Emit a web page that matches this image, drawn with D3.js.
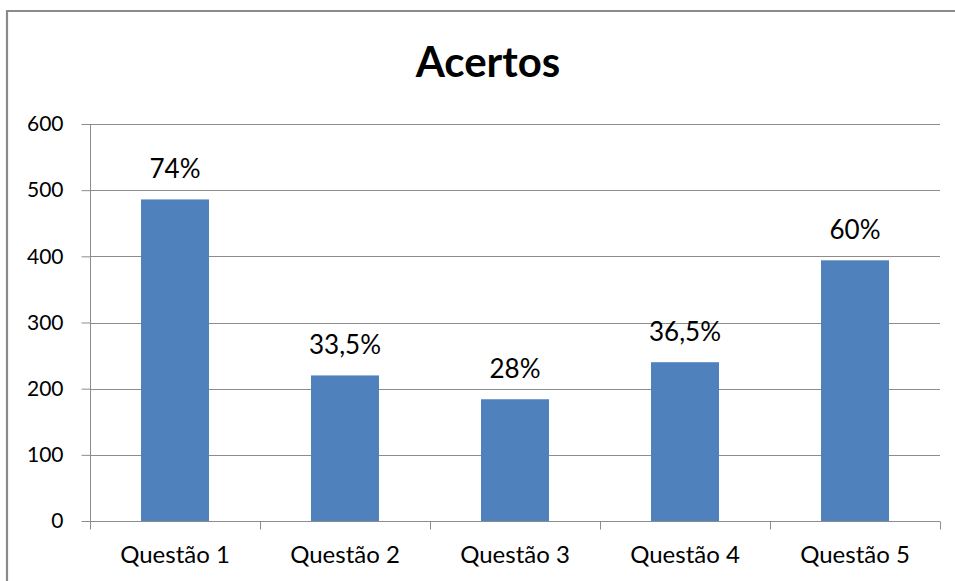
<!DOCTYPE html>
<html>
<head>
<meta charset="utf-8">
<script src="https://cdn.jsdelivr.net/npm/d3@7"></script>
<style>
  body { margin: 0; background: #fff; }
  svg { display: block; font-family: Lato, "Open Sans", sans-serif; }
  .grid line { stroke: #8c8c8c; stroke-width: 1; }
  .axis path, .axis line { stroke: #8c8c8c; }
</style>
</head>
<body>
<svg width="955" height="581"></svg>
<script>
// chart data
var categories = ["Questão 1", "Questão 2", "Questão 3", "Questão 4", "Questão 5"];
var values = [486, 220, 184, 240, 394];
var labels = ["74%", "33,5%", "28%", "36,5%", "60%"];
var yTicks = [0, 100, 200, 300, 400, 500, 600];

var svg = d3.select("svg"),
  width = +svg.attr("width"),
  height = +svg.attr("height");

var margin = {top: 124, right: 15, bottom: 60, left: 90};
var plotW = 940 - margin.left,
  plotH = 521 - margin.top;

// outer frame (only left + top edges are visible in the picture)
svg.append("path")
  .attr("d", "M7,581 V11 H955")
  .attr("fill", "none")
  .attr("stroke", "#8a8a8a")
  .attr("stroke-width", 2.2);

// title
svg.append("text")
  .attr("x", 488)
  .attr("y", 77)
  .attr("text-anchor", "middle")
  .attr("font-size", 42)
  .attr("font-weight", "bold")
  .attr("fill", "#000")
  .text("Acertos");

var g = svg.append("g")
  .attr("transform", "translate(" + margin.left + "," + margin.top + ")");

var x = d3.scaleBand()
  .domain(categories)
  .range([0, plotW])
  .padding(0);

var y = d3.scaleLinear()
  .domain([0, 600])
  .range([plotH, 0]);

// gridlines
g.append("g")
  .attr("class", "grid")
  .selectAll("line")
  .data(yTicks.filter(d => d > 0))
  .enter().append("line")
  .attr("x1", 0)
  .attr("x2", plotW)
  .attr("y1", d => Math.round(y(d)) + 0.5)
  .attr("y2", d => Math.round(y(d)) + 0.5);

// y axis
var yAxis = g.append("g")
  .attr("class", "axis")
  .attr("transform", "translate(0.5,0)")
  .call(d3.axisLeft(y).tickValues(yTicks).tickSize(9).tickPadding(10));
yAxis.select(".domain").attr("d", "M0," + plotH + "V0");
yAxis.selectAll("text")
  .attr("font-size", 21)
  .attr("font-family", "Lato, sans-serif")
  .attr("fill", "#000");
yAxis.selectAll(".tick text").attr("x", -27);

// bars
var barW = x.bandwidth() * 0.4;
g.append("g")
  .selectAll("rect")
  .data(values)
  .enter().append("rect")
  .attr("x", (d, i) => x(categories[i]) + (x.bandwidth() - barW) / 2)
  .attr("y", d => y(d))
  .attr("width", barW)
  .attr("height", d => plotH - y(d))
  .attr("fill", "#4f81bd");

// value labels
g.append("g")
  .selectAll("text")
  .data(values)
  .enter().append("text")
  .attr("x", (d, i) => x(categories[i]) + x.bandwidth() / 2)
  .attr("y", d => y(d) - 21)
  .attr("text-anchor", "middle")
  .attr("font-size", 26)
  .attr("fill", "#000")
  .text((d, i) => labels[i]);

// x axis
var xAxis = g.append("g")
  .attr("class", "axis")
  .attr("transform", "translate(0," + (plotH + 0.5) + ")")
  .call(d3.axisBottom(x).tickSize(0).tickPadding(24));
xAxis.select(".domain").attr("d", "M0,0H" + plotW);
xAxis.selectAll("text")
  .attr("font-size", 24)
  .attr("font-family", "Lato, sans-serif")
  .attr("fill", "#000");

// category boundary ticks
xAxis.append("g")
  .selectAll("line")
  .data(d3.range(categories.length + 1))
  .enter().append("line")
  .attr("x1", i => Math.round(i * x.step()) + 0.5)
  .attr("x2", i => Math.round(i * x.step()) + 0.5)
  .attr("y1", 0)
  .attr("y2", 8)
  .attr("stroke", "#8c8c8c");
</script>
</body>
</html>
